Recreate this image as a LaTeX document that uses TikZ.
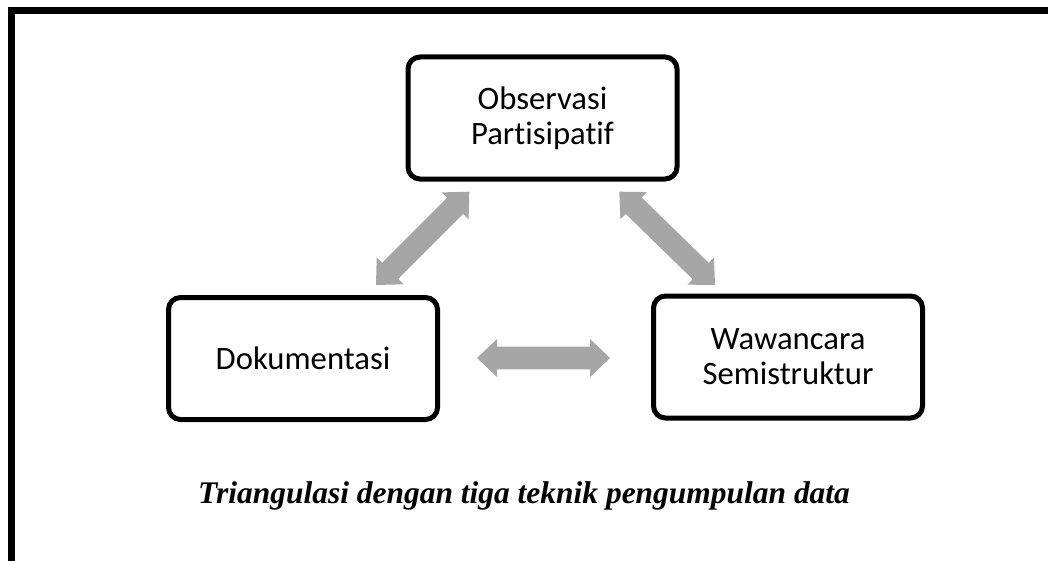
\documentclass[tikz,border=0pt]{standalone}
\usepackage{fontspec}
\setmainfont{Liberation Serif}
\newfontfamily\boxfont[Ligatures={NoCommon}]{Carlito}
\usetikzlibrary{calc}
\definecolor{arrowgray}{HTML}{A6A6A6}
\tikzset{
  box/.style={draw=black, line width=3.75pt, rounded corners=9pt,
    minimum width=201.75pt, minimum height=91.5pt, inner sep=0pt,
    align=center, font=\boxfont\fontsize{24.5}{26.25}\selectfont},
  blockarrow/.style={fill=arrowgray, draw=none},
  frameline/.style={line width=5.25pt, line join=miter},
  caption/.style={font=\bfseries\itshape\fontsize{23.6}{28}\selectfont, inner sep=0pt}
}
\newcommand{\dblarrow}[2]{%
  \fill[blockarrow] (#1)
    -- ($(#1)!15pt!(#2)!14.25pt!90:(#2)$)
    -- ($(#1)!15pt!(#2)!8.6pt!90:(#2)$)
    -- ($(#2)!15pt!(#1)!8.6pt!-90:(#1)$)
    -- ($(#2)!15pt!(#1)!14.25pt!-90:(#1)$)
    -- (#2)
    -- ($(#2)!15pt!(#1)!14.25pt!90:(#1)$)
    -- ($(#2)!15pt!(#1)!8.6pt!90:(#1)$)
    -- ($(#1)!15pt!(#2)!8.6pt!-90:(#2)$)
    -- ($(#1)!15pt!(#2)!14.25pt!-90:(#2)$)
    -- cycle;}
\begin{document}
\begin{tikzpicture}[x=0.75pt, y=-0.75pt]
  \useasboundingbox (0,0) rectangle (1048,560);
  \draw[frameline] (11,565) -- (11,11) -- (1055,11);

  \node[box] (obs) at (542.5,118) {Observasi\\Partisipatif};
  \node[box] (dok) at (303,358.5) {Dokumentasi};
  \node[box] (waw) at (788,357) {Wawancara\\Semistruktur};

  \coordinate (l1) at (376,285);
  \coordinate (l2) at (469.3,191.7);
  \coordinate (r1) at (619.3,191.7);
  \coordinate (r2) at (715,285);
  \coordinate (h1) at (477,358);
  \coordinate (h2) at (610,358);
  \dblarrow{l1}{l2}
  \dblarrow{r1}{r2}
  \dblarrow{h1}{h2}

  \node[caption, anchor=base] (cap) at (524,503) {Triangulasi dengan tiga teknik pengumpulan data};
\end{tikzpicture}
\end{document}
